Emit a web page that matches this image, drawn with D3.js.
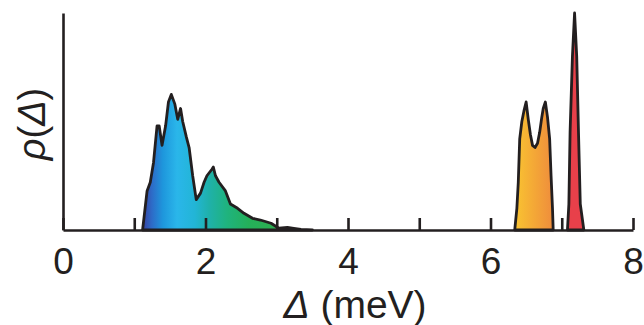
<!DOCTYPE html>
<html>
<head>
<meta charset="utf-8">
<script src="https://cdn.jsdelivr.net/npm/d3@7"></script>
<style>
  body { margin: 0; background: #fff; }
  text { font-family: "Liberation Sans", Arial, sans-serif; fill: #231f20; }
</style>
</head>
<body>
<div id="chart-area"></div>
<script>
// data: gap distribution rho(Delta), arbitrary units (peak = 1)
var bandGap   = [1.117, 1.18, 1.225, 1.27, 1.32, 1.35, 1.39, 1.44, 1.48, 1.52, 1.57, 1.61, 1.65, 1.68, 1.73, 1.77, 1.82, 1.87, 1.93, 1.98, 2.02, 2.09, 2.11, 2.14, 2.19, 2.28, 2.35, 2.45, 2.54, 2.66, 2.77, 2.92, 3.03, 3.15, 3.24, 3.34, 3.5];
var bandRho   = [0, 0.18, 0.22, 0.31, 0.48, 0.48, 0.39, 0.48, 0.59, 0.625, 0.58, 0.51, 0.56, 0.50, 0.43, 0.38, 0.25, 0.14, 0.17, 0.22, 0.25, 0.28, 0.29, 0.25, 0.22, 0.18, 0.12, 0.10, 0.077, 0.054, 0.046, 0.031, 0.008, 0.012, 0.008, 0.003, 0];
var doubleGap = [6.34, 6.37, 6.39, 6.41, 6.44, 6.47, 6.50, 6.53, 6.56, 6.59, 6.625, 6.66, 6.69, 6.72, 6.74, 6.77, 6.80, 6.83, 6.85, 6.87, 6.88];
var doubleRho = [0, 0.10, 0.22, 0.42, 0.50, 0.55, 0.59, 0.51, 0.44, 0.39, 0.38, 0.40, 0.45, 0.52, 0.56, 0.59, 0.52, 0.42, 0.25, 0.10, 0];
var sharpGap  = [7.08, 7.10, 7.117, 7.15, 7.18, 7.21, 7.235, 7.26, 7.31];
var sharpRho  = [0, 0.12, 0.45, 0.8, 1.0, 0.8, 0.45, 0.12, 0];

var tickValues  = [0, 1, 2, 3, 4, 5, 6, 7, 8];
var labelValues = [0, 2, 4, 6, 8];

// colour ramps along Delta
var bandStops   = [[1.1, "#3a3c9c"], [1.25, "#2d6cc8"], [1.4, "#1e96dc"], [1.6, "#2ab6ea"], [1.85, "#22b5d6"], [2.05, "#1fb1aa"], [2.3, "#1fb37e"], [2.6, "#24b05a"], [3.3, "#35ad48"]];
var doubleStops = [[6.34, "#f9c431"], [6.88, "#ef8c3c"]];
var sharpStops  = [[7.08, "#e8404a"], [7.31, "#e8404a"]];

var margin = { left: 63, right: 11, top: 13, bottom: 95 },
    width = 644 - margin.left - margin.right,
    height = 325 - margin.top - margin.bottom;

var svg = d3.select("#chart-area").append("svg")
    .attr("width", 644)
    .attr("height", 325);
var g = svg.append("g")
    .attr("transform", "translate(" + margin.left + "," + margin.top + ")");

var x = d3.scaleLinear().domain([0, 8]).range([0, width]);
var y = d3.scaleLinear().domain([0, 1]).range([height, 0]);

var defs = svg.append("defs");
function gradient(id, stops) {
    var lg = defs.append("linearGradient")
        .attr("id", id)
        .attr("gradientUnits", "userSpaceOnUse")
        .attr("x1", x(stops[0][0])).attr("x2", x(stops[stops.length - 1][0]))
        .attr("y1", 0).attr("y2", 0);
    var span = stops[stops.length - 1][0] - stops[0][0];
    stops.forEach(function(s) {
        lg.append("stop")
            .attr("offset", (s[0] - stops[0][0]) / span)
            .attr("stop-color", s[1]);
    });
}
gradient("gBand", bandStops);
gradient("gDouble", doubleStops);
gradient("gSharp", sharpStops);

var area = d3.area()
    .x(function(d) { return x(d[0]); })
    .y0(y(0))
    .y1(function(d) { return y(d[1]); });

function drawPeak(gaps, rhos, fillId) {
    var pts = d3.zip(gaps, rhos);
    g.append("path")
        .attr("d", area(pts))
        .attr("fill", "url(#" + fillId + ")")
        .attr("stroke", "#231f20")
        .attr("stroke-width", 2.8)
        .attr("stroke-linejoin", "round");
}
drawPeak(bandGap, bandRho, "gBand");
drawPeak(doubleGap, doubleRho, "gDouble");
drawPeak(sharpGap, sharpRho, "gSharp");

// axes
var xAxisCall = d3.axisBottom(x)
    .tickValues(tickValues)
    .tickSizeInner(-12)
    .tickSizeOuter(0)
    .tickFormat(function(d) { return labelValues.indexOf(d) >= 0 ? d : ""; });
var xAxis = g.append("g")
    .attr("transform", "translate(0," + height + ")")
    .call(xAxisCall);
xAxis.selectAll("path, line").attr("stroke", "#231f20").attr("stroke-width", 2.6);
xAxis.selectAll("text")
    .attr("y", 44).attr("dy", null)
    .style("font-size", "37px")
    .attr("fill", "#231f20");

var yAxis = g.append("g")
    .call(d3.axisLeft(y).tickValues([]).tickSizeOuter(0));
yAxis.select("path").attr("stroke", "#231f20").attr("stroke-width", 2.6);

// labels
var xl = svg.append("text")
    .attr("x", 355).attr("y", 318)
    .attr("text-anchor", "middle")
    .style("font-size", "39px");
xl.append("tspan").style("font-style", "italic").text("Δ");
xl.append("tspan").text(" (meV)");

var yl = svg.append("text")
    .attr("transform", "translate(45,124) rotate(-90)")
    .attr("text-anchor", "middle")
    .style("font-size", "38px");
yl.append("tspan").style("font-style", "italic").text("ρ");
yl.append("tspan").text("(");
yl.append("tspan").style("font-style", "italic").text("Δ");
yl.append("tspan").text(")");
</script>
</body>
</html>
